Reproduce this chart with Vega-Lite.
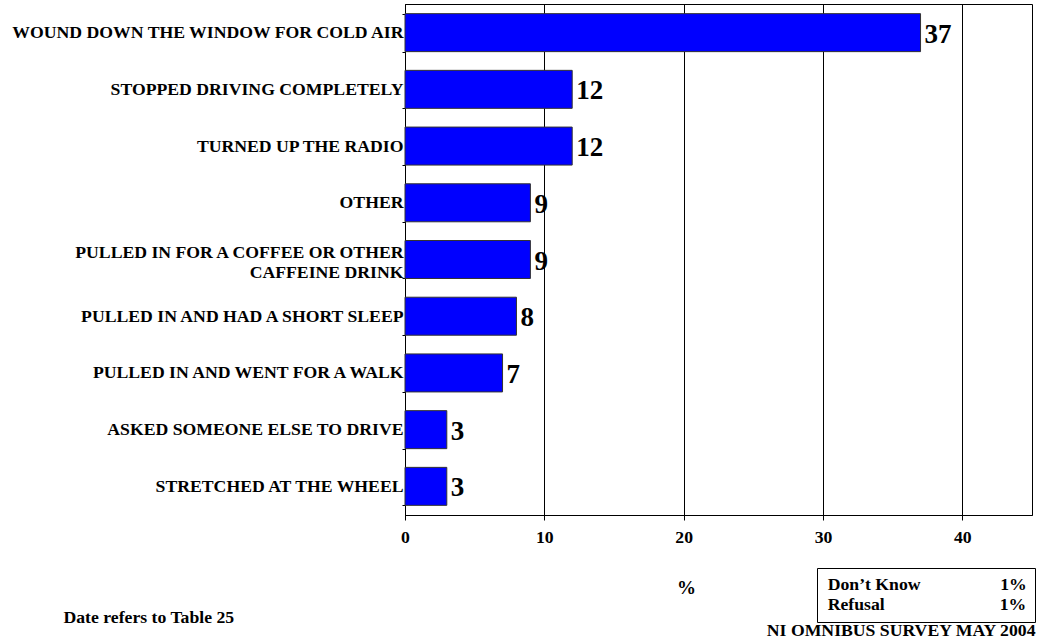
{
  "$schema": "https://vega.github.io/schema/vega-lite/v6.json",
  "width": 627,
  "height": 511,
  "autosize": "none",
  "padding": {"left": 405, "top": 4, "right": 8, "bottom": 128},
  "background": "white",
  "config": {"view": {"stroke": "black", "strokeWidth": 1}, "font": "Liberation Serif"},
  "title": {"text": "NI OMNIBUS SURVEY MAY 2004", "orient": "bottom", "anchor": "end", "frame": "bounds", "font": "Liberation Serif", "fontSize": 17.7, "fontWeight": "bold", "color": "black", "offset": 0, "dy": -4},
  "data": {"values": [
    {"response": "WOUND DOWN THE WINDOW FOR COLD AIR", "pct": 37},
    {"response": "STOPPED DRIVING COMPLETELY", "pct": 12},
    {"response": "TURNED UP THE RADIO", "pct": 12},
    {"response": "OTHER", "pct": 9},
    {"response": "PULLED IN FOR A COFFEE OR OTHER CAFFEINE DRINK", "pct": 9},
    {"response": "PULLED IN AND HAD A SHORT SLEEP", "pct": 8},
    {"response": "PULLED IN AND WENT FOR A WALK", "pct": 7},
    {"response": "ASKED SOMEONE ELSE TO DRIVE", "pct": 3},
    {"response": "STRETCHED AT THE WHEEL", "pct": 3}
  ]},
  "layer": [
    {
      "mark": {"type": "bar", "fill": "#0000FF", "stroke": "#333333", "strokeWidth": 1},
      "encoding": {
        "y": {"field": "response", "type": "nominal", "sort": null,
          "scale": {"paddingInner": 0.33, "paddingOuter": 0.17},
          "axis": {"title": "Date refers to Table 25", "titleAngle": 0, "titleAlign": "left", "titleBaseline": "middle", "titleX": -342, "titleY": 613,
            "titleFont": "Liberation Serif", "titleFontSize": 17.7, "titleFontWeight": "bold", "titleColor": "black",
            "labelFont": "Liberation Serif", "labelFontSize": 17.7, "labelFontWeight": "bold", "labelColor": "black", "labelLimit": 0,
            "labelPadding": -1, "tickSize": 3, "tickBand": "extent", "tickColor": "black", "domainColor": "black", "labelLineHeight": 20,
            "labelOffset": {"condition": {"test": "datum.value == 'PULLED IN FOR A COFFEE OR OTHER CAFFEINE DRINK'", "value": -7}, "value": 0},
            "labelExpr": "datum.label == 'PULLED IN FOR A COFFEE OR OTHER CAFFEINE DRINK' ? ['PULLED IN FOR A COFFEE OR OTHER', 'CAFFEINE DRINK'] : datum.label",
            "grid": false}},
        "x": {"field": "pct", "type": "quantitative", "scale": {"domain": [0, 45], "nice": false},
          "axis": {"values": [0, 10, 20, 30, 40], "grid": true, "gridColor": "black", "gridOpacity": 1, "tickSize": 5, "tickColor": "black", "domainColor": "black",
            "labelFont": "Liberation Serif", "labelFontSize": 17.7, "labelFontWeight": "bold", "labelColor": "black", "labelPadding": 8, "labelFlush": false,
            "title": "%", "titleX": 281, "titleY": 72, "titleBaseline": "middle", "titleAlign": "center", "titleFont": "Liberation Serif", "titleFontSize": 19, "titleFontWeight": "bold", "titleColor": "black"}}
      }
    },
    {
      "mark": {"type": "text", "align": "left", "baseline": "middle", "dx": 4, "dy": 2, "font": "Liberation Serif", "fontSize": 27, "fontWeight": "bold", "color": "black"},
      "encoding": {
        "y": {"field": "response", "type": "nominal", "sort": null},
        "x": {"field": "pct", "type": "quantitative"},
        "text": {"field": "pct", "type": "quantitative"}
      }
    },
    {
      "data": {"values": [
        {"note": "Don’t Know", "share": "1%"},
        {"note": "Refusal", "share": "1%"}
      ]},
      "transform": [
        {"calculate": "datum.note + (datum.note == 'Refusal' ? '\u00a0\u00a0\u00a0\u00a0\u00a0\u00a0\u00a0\u00a0\u00a0\u00a0\u00a0\u00a0\u00a0\u00a0\u00a0\u00a0\u00a0\u00a0\u00a0\u00a0\u00a0\u00a0\u00a0\u00a0\u00a0\u00a0' : '\u00a0\u00a0\u00a0\u00a0\u00a0\u00a0\u00a0\u00a0\u00a0\u00a0\u00a0\u00a0\u00a0\u00a0\u00a0\u00a0\u00a0\u00a0') + datum.share", "as": "entry"}
      ],
      "mark": {"type": "text", "opacity": 0},
      "encoding": {
        "text": {"field": "entry", "type": "nominal"},
        "color": {"field": "entry", "type": "nominal", "scale": {"range": ["black", "black"]},
          "legend": {"orient": "none", "legendX": 412, "legendY": 564, "title": null, "strokeColor": "black", "fillColor": "white", "padding": 8,
            "labelFont": "Liberation Serif", "labelFontSize": 17.7, "labelFontWeight": "bold", "labelColor": "black", "labelLimit": 0, "labelOffset": -15,
            "symbolSize": 1, "symbolOpacity": 0, "symbolStrokeWidth": 0, "symbolType": "square", "rowPadding": 1}}
      }
    }
  ]
}
